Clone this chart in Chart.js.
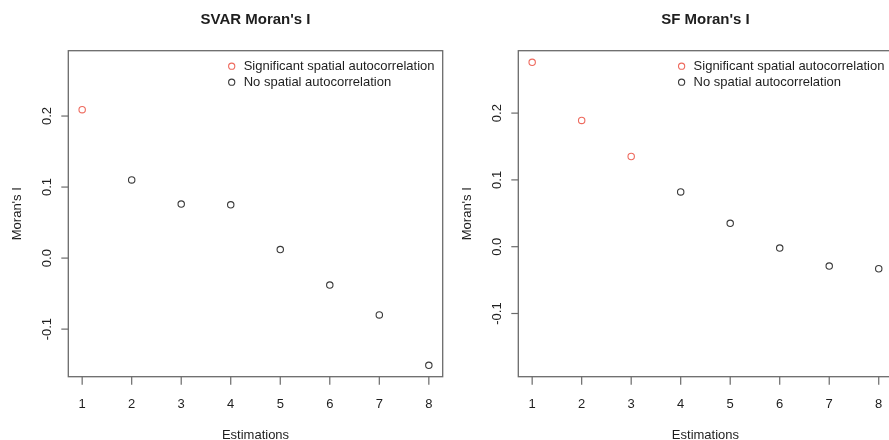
<!DOCTYPE html>
<html>
<head>
<meta charset="utf-8">
<script src="https://cdn.jsdelivr.net/npm/chart.js@4.4.1/dist/chart.umd.min.js"></script>
<style>
  html, body { margin: 0; padding: 0; background: #fff; overflow: hidden; }
  body { width: 889px; height: 440px; position: relative; }
  .panel { position: absolute; top: 0; }
</style>
</head>
<body>
<div class="panel" style="left:0;width:445px;height:440px"><canvas id="svar"></canvas></div>
<div class="panel" style="left:445px;width:460px;height:440px"><canvas id="sf"></canvas></div>
<script>
// Estimation number on the x axis
const estimations = [1, 2, 3, 4, 5, 6, 7, 8];

// Moran's I for the SVAR residuals and whether it is significant
const svarMoran = [0.209, 0.110, 0.076, 0.075, 0.012, -0.038, -0.080, -0.151];
const svarSignificant = [true, false, false, false, false, false, false, false];

// Moran's I for the SF residuals and whether it is significant
const sfMoran = [0.276, 0.189, 0.135, 0.082, 0.035, -0.002, -0.029, -0.033];
const sfSignificant = [true, true, true, false, false, false, false, false];

// Axis ticks
const xTickValues = [1, 2, 3, 4, 5, 6, 7, 8];
const xTickLabels = ['1', '2', '3', '4', '5', '6', '7', '8'];
const yTickValues = [-0.1, 0.0, 0.1, 0.2];
const yTickLabels = ['-0.1', '0.0', '0.1', '0.2'];

const legendLabels = ['Significant spatial autocorrelation', 'No spatial autocorrelation'];
const titles = ["SVAR Moran's I", "SF Moran's I"];
const xTitle = 'Estimations';
const yTitle = "Moran's I";

const SIG_COLOR = '#ee6a5e';
const NON_COLOR = '#3a3a3a';
const AXIS_COLOR = '#6a6a6a';
const TEXT_COLOR = '#1e1e1e';
const FONT = '"Liberation Sans", Arial, Helvetica, sans-serif';

function points(values, flags, wanted) {
  const out = [];
  values.forEach((v, i) => { if (flags[i] === wanted) out.push({ x: estimations[i], y: v }); });
  return out;
}

// R-style frame, axes, titles and legend drawn around the plotting region
const baseGraphics = {
  id: 'baseGraphics',
  beforeDatasetsDraw(chart, args, opts) {
    const { ctx, chartArea: a } = chart;
    ctx.save();
    ctx.strokeStyle = AXIS_COLOR;
    ctx.lineWidth = 1.3;
    ctx.strokeRect(a.left, a.top, a.right - a.left, a.bottom - a.top);
    ctx.restore();
  },
  afterDatasetsDraw(chart, args, opts) {
    const { ctx, chartArea: a, scales } = chart;
    const xs = scales.x, ys = scales.y;
    const cx = (a.left + a.right) / 2, cy = (a.top + a.bottom) / 2;
    ctx.save();
    ctx.strokeStyle = AXIS_COLOR;
    ctx.lineWidth = 1.2;
    ctx.fillStyle = TEXT_COLOR;

    // x axis ticks and labels
    ctx.font = '13px ' + FONT;
    ctx.textAlign = 'center';
    ctx.textBaseline = 'alphabetic';
    xTickValues.forEach((v, i) => {
      const px = xs.getPixelForValue(v);
      ctx.beginPath();
      ctx.moveTo(px, a.bottom);
      ctx.lineTo(px, a.bottom + 8);
      ctx.stroke();
      ctx.fillText(xTickLabels[i], px, 408);
    });

    // y axis ticks and rotated labels
    yTickValues.forEach((v, i) => {
      const py = ys.getPixelForValue(v);
      ctx.beginPath();
      ctx.moveTo(a.left, py);
      ctx.lineTo(a.left - 7, py);
      ctx.stroke();
      ctx.save();
      ctx.translate(a.left - 17.5, py);
      ctx.rotate(-Math.PI / 2);
      ctx.fillText(yTickLabels[i], 0, 0);
      ctx.restore();
    });

    // axis titles
    ctx.fillText(xTitle, cx, 438.5);
    ctx.save();
    ctx.translate(a.left - 47.6, cy);
    ctx.rotate(-Math.PI / 2);
    ctx.fillText(yTitle, 0, 0);
    ctx.restore();

    // main title
    ctx.font = 'bold 15px ' + FONT;
    ctx.fillText(opts.title, cx, 24);

    // legend in the top-right corner of the frame
    ctx.font = '13px ' + FONT;
    ctx.textAlign = 'left';
    ctx.textBaseline = 'middle';
    const colors = [SIG_COLOR, NON_COLOR];
    legendLabels.forEach((label, i) => {
      const y = a.top + 15.5 + i * 16;
      const mx = a.right - 211;
      ctx.beginPath();
      ctx.strokeStyle = colors[i];
      ctx.lineWidth = 1.1;
      ctx.arc(mx, y, 3.1, 0, Math.PI * 2);
      ctx.stroke();
      ctx.fillStyle = TEXT_COLOR;
      ctx.fillText(label, mx + 12, y + 0.5);
    });
    ctx.restore();
  }
};

function makePanel(id, values, flags, title, yMin, yMax, padding) {
  return new Chart(document.getElementById(id), {
    type: 'scatter',
    data: {
      datasets: [
        { label: legendLabels[0], data: points(values, flags, true),
          borderColor: SIG_COLOR, backgroundColor: 'rgba(0,0,0,0)',
          pointRadius: 3.2, pointBorderWidth: 1.1, pointStyle: 'circle' },
        { label: legendLabels[1], data: points(values, flags, false),
          borderColor: NON_COLOR, backgroundColor: 'rgba(0,0,0,0)',
          pointRadius: 3.2, pointBorderWidth: 1.1, pointStyle: 'circle' }
      ]
    },
    options: {
      responsive: true,
      maintainAspectRatio: false,
      animation: false,
      events: [],
      layout: { padding, autoPadding: false },
      scales: {
        x: { type: 'linear', min: 0.72, max: 8.28, display: false },
        y: { type: 'linear', min: yMin, max: yMax, display: false }
      },
      plugins: {
        legend: { display: false },
        tooltip: { enabled: false },
        baseGraphics: { title }
      }
    },
    plugins: [baseGraphics]
  });
}

makePanel('svar', svarMoran, svarSignificant, titles[0], -0.167, 0.292,
  { left: 68.3, right: 445 - 442.7, top: 50.7, bottom: 440 - 376.7 });
makePanel('sf', sfMoran, sfSignificant, titles[1], -0.1946, 0.2934,
  { left: 518.3 - 445, right: 460 - (892.6 - 445), top: 50.7, bottom: 440 - 376.7 });
</script>
</body>
</html>
